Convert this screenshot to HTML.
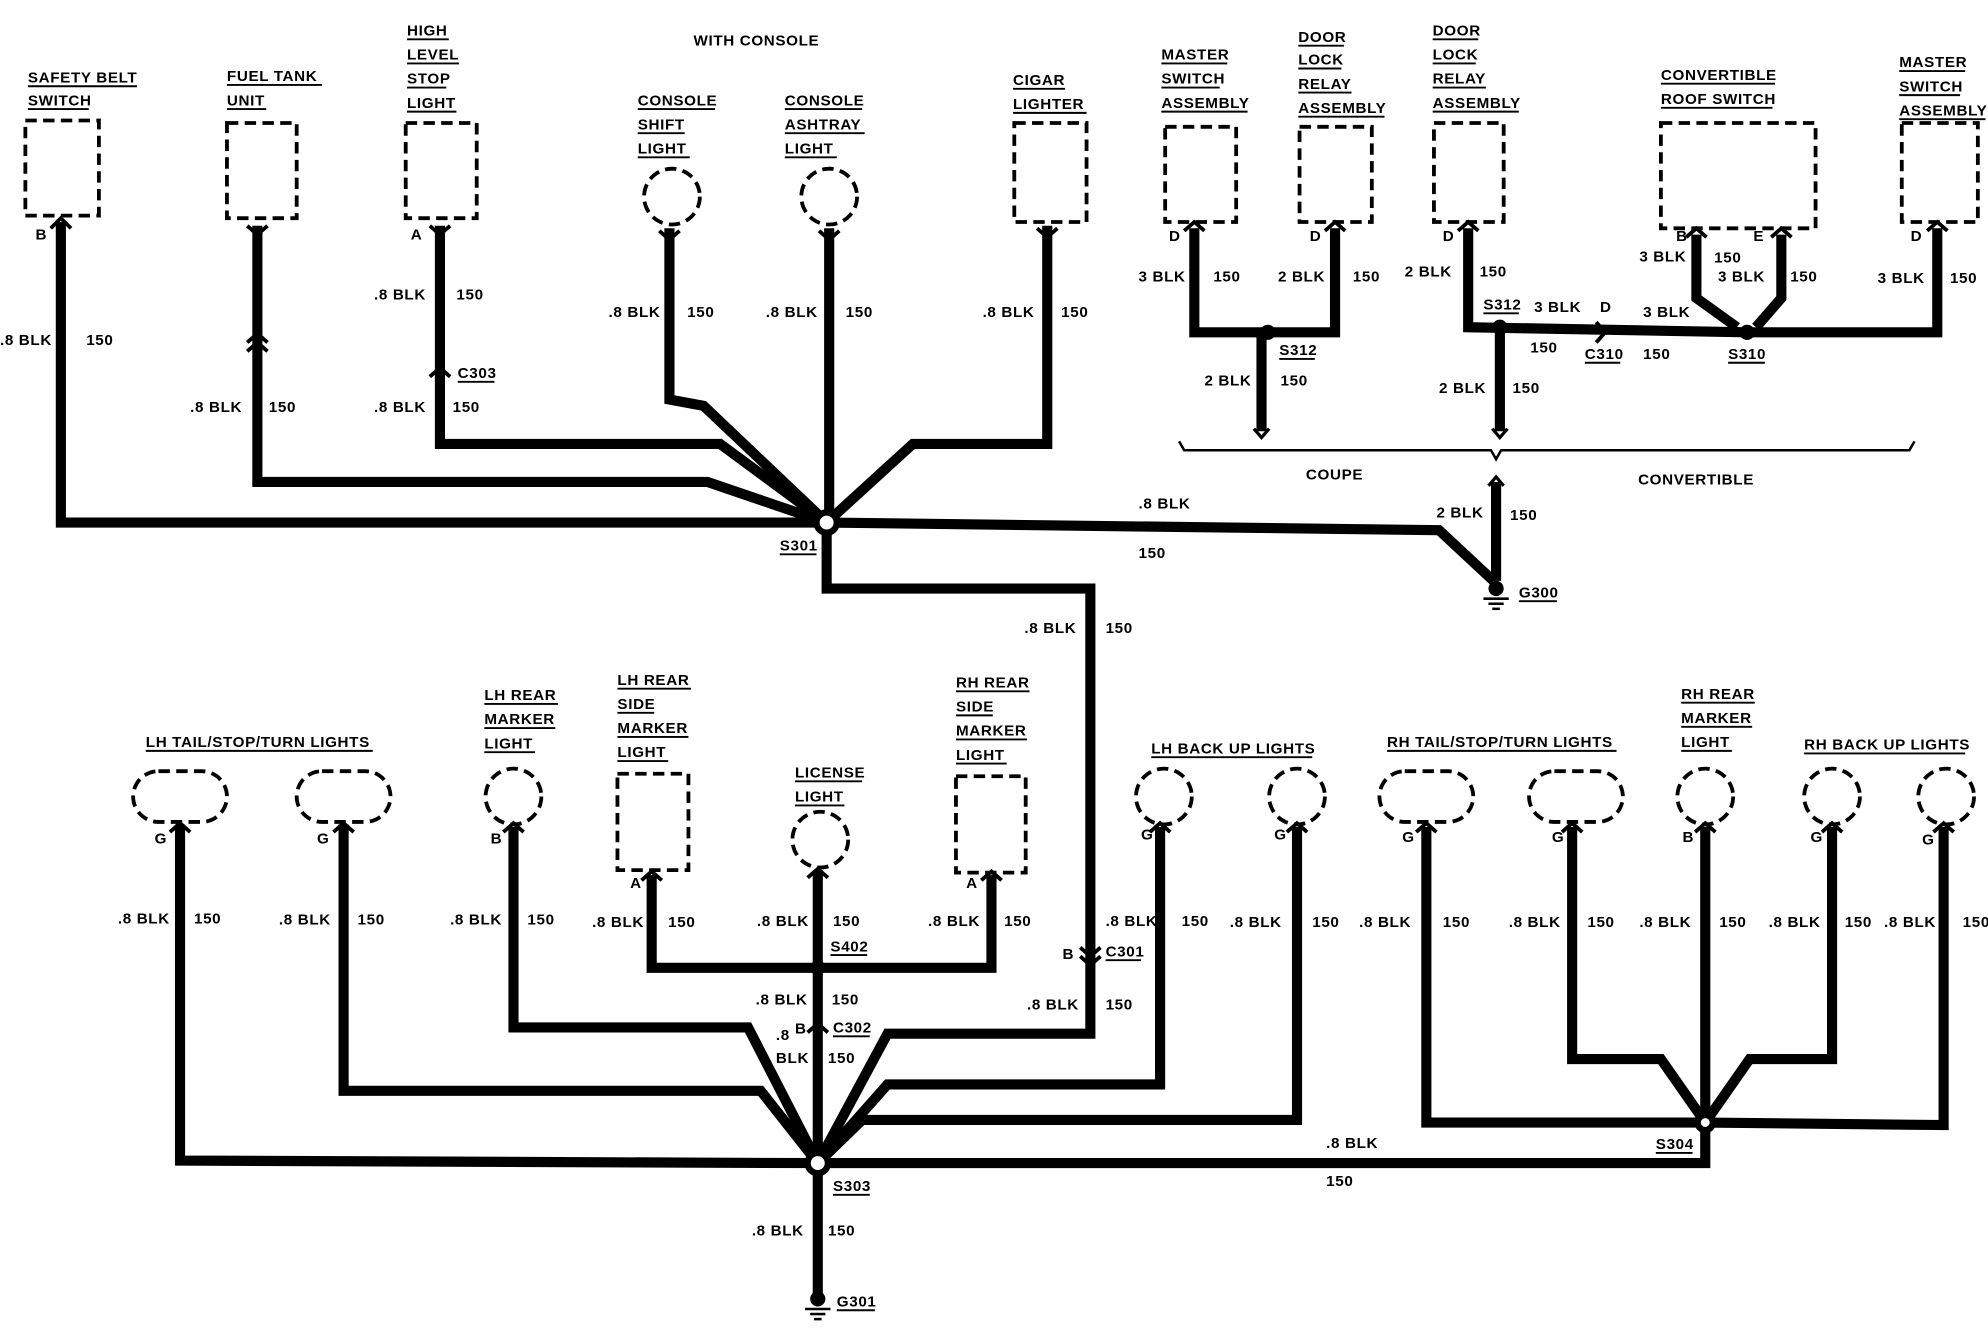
<!DOCTYPE html>
<html><head><meta charset="utf-8"><style>
html,body{margin:0;padding:0;background:#fff;}
svg{display:block}
text{font-family:"Liberation Sans",sans-serif;font-weight:bold;font-size:12px;fill:#000;letter-spacing:0.5px}
.w{fill:none;stroke:#000;stroke-width:8;stroke-linejoin:miter}
.d{fill:none;stroke:#000;stroke-width:3;stroke-dasharray:9,5}
.u{stroke:#000;stroke-width:1.5}
.s{fill:#fff;stroke:#000;stroke-width:5}
</style></head><body>
<svg width="1988" height="1328" viewBox="0 0 1568 1047" preserveAspectRatio="none" xmlns="http://www.w3.org/2000/svg">
<!-- TOP LEFT wires -->
<polyline class="w" points="48,175 48,412 652,412"/>
<polyline class="w" points="203,178 203,380 558,380 652,412"/>
<polyline class="w" points="347,178 347,350 568,350 652,412"/>
<polyline class="w" points="528,180 528,315 555,320 652,412"/>
<polyline class="w" points="654,180 654,412"/>
<polyline class="w" points="826,178 826,350 720,350 652,412"/>
<polyline class="w" points="652,412 1135,418 1178,458"/>
<polyline class="w" points="652,412 652,464 860,464 860,815 700,815 645,917"/>
<!-- boxes -->
<rect class="d" x="20" y="95" width="58" height="75"/>
<rect class="d" x="179" y="97" width="55" height="75"/>
<rect class="d" x="320" y="97" width="56" height="75"/>
<circle class="d" cx="530" cy="155" r="22"/>
<circle class="d" cx="654" cy="155" r="22"/>
<rect class="d" x="800" y="97" width="57" height="78"/>
<!-- connector marks -->
<path d="M40,180 L48,172 L56,180" fill="none" stroke="#000" stroke-width="3"/>
<path d="M195,178 L203,185 L211,178" fill="none" stroke="#000" stroke-width="3"/>
<path d="M339,178 L347,185 L355,178" fill="none" stroke="#000" stroke-width="3"/>
<path d="M520,182 L528,189 L536,182" fill="none" stroke="#000" stroke-width="3"/>
<path d="M646,182 L654,189 L662,182" fill="none" stroke="#000" stroke-width="3"/>
<path d="M818,180 L826,187 L834,180" fill="none" stroke="#000" stroke-width="3"/>
<path d="M195,270 L203,263 L211,270 M195,277 L203,270 L211,277" fill="none" stroke="#000" stroke-width="3"/>
<path d="M339,297 L347,290 L355,297" fill="none" stroke="#000" stroke-width="3"/>
<circle class="s" cx="652" cy="412" r="8"/>
<!-- top-left text -->
<text x="22" y="65">SAFETY BELT</text><text x="22" y="83">SWITCH</text>
<line class="u" x1="22" y1="68" x2="108" y2="68"/><line class="u" x1="22" y1="86" x2="70" y2="86"/>
<text x="28" y="189">B</text>
<text x="0" y="272">.8 BLK</text><text x="68" y="272">150</text>
<text x="179" y="64">FUEL TANK</text><text x="179" y="83">UNIT</text>
<line class="u" x1="179" y1="67" x2="254" y2="67"/><line class="u" x1="179" y1="86" x2="210" y2="86"/>
<text x="150" y="325">.8 BLK</text><text x="212" y="325">150</text>
<text x="321" y="28">HIGH</text><text x="321" y="47">LEVEL</text><text x="321" y="66">STOP</text><text x="321" y="85">LIGHT</text>
<line class="u" x1="321" y1="31" x2="354" y2="31"/><line class="u" x1="321" y1="50" x2="362" y2="50"/><line class="u" x1="321" y1="69" x2="352" y2="69"/><line class="u" x1="321" y1="88" x2="360" y2="88"/>
<text x="324" y="189">A</text>
<text x="295" y="236">.8 BLK</text><text x="360" y="236">150</text>
<text x="361" y="298">C303</text><line class="u" x1="361" y1="301" x2="390" y2="301"/>
<text x="295" y="325">.8 BLK</text><text x="357" y="325">150</text>
<text x="547" y="36">WITH CONSOLE</text>
<text x="503" y="83">CONSOLE</text><text x="503" y="102">SHIFT</text><text x="503" y="121">LIGHT</text>
<line class="u" x1="503" y1="86" x2="564" y2="86"/><line class="u" x1="503" y1="105" x2="540" y2="105"/><line class="u" x1="503" y1="124" x2="544" y2="124"/>
<text x="619" y="83">CONSOLE</text><text x="619" y="102">ASHTRAY</text><text x="619" y="121">LIGHT</text>
<line class="u" x1="619" y1="86" x2="680" y2="86"/><line class="u" x1="619" y1="105" x2="682" y2="105"/><line class="u" x1="619" y1="124" x2="660" y2="124"/>
<text x="480" y="250">.8 BLK</text><text x="542" y="250">150</text>
<text x="604" y="250">.8 BLK</text><text x="667" y="250">150</text>
<text x="799" y="67">CIGAR</text><text x="799" y="86">LIGHTER</text>
<line class="u" x1="799" y1="70" x2="840" y2="70"/><line class="u" x1="799" y1="89" x2="857" y2="89"/>
<text x="775" y="250">.8 BLK</text><text x="837" y="250">150</text>
<text x="615" y="434">S301</text><line class="u" x1="615" y1="437" x2="644" y2="437"/>
<text x="898" y="401">.8 BLK</text><text x="898" y="440">150</text>
<text x="808" y="499">.8 BLK</text><text x="872" y="499">150</text>
<!-- TOP RIGHT -->
<rect class="d" x="919" y="100" width="56" height="75"/>
<rect class="d" x="1025" y="100" width="57" height="75"/>
<rect class="d" x="1131" y="97" width="55" height="78"/>
<rect class="d" x="1310" y="97" width="122" height="83"/>
<rect class="d" x="1500" y="97" width="60" height="78"/>
<polyline class="w" points="942,180 942,262 1053,262 1053,180"/>
<polyline class="w" points="995,262 995,340"/>
<polyline class="w" points="1158,180 1158,258 1378,262"/>
<polyline class="w" points="1183,258 1183,340"/>
<polyline class="w" points="1338,185 1338,235 1370,258"/>
<polyline class="w" points="1405,185 1405,235 1385,258"/>
<polyline class="w" points="1528,180 1528,262 1378,262"/>
<polyline class="w" points="1180,380 1180,458"/>
<path d="M934,182 L942,175 L950,182 M1045,182 L1053,175 L1061,182 M1150,182 L1158,175 L1166,182 M1330,187 L1338,180 L1346,187 M1397,187 L1405,180 L1413,187 M1520,182 L1528,175 L1536,182" fill="none" stroke="#000" stroke-width="3"/>
<path d="M1259,254 L1266,262 L1259,270" fill="none" stroke="#000" stroke-width="3"/>
<path d="M989,338 L995,345 L1001,338 M1177,338 L1183,345 L1189,338 M1174,383 L1180,376 L1186,383" fill="none" stroke="#000" stroke-width="2.5"/>
<circle cx="1000" cy="262" r="6"/><circle cx="1183" cy="258" r="6"/><circle cx="1378" cy="262" r="6"/>
<path d="M930,348 L934,355 L1176,355 L1180,362 L1184,355 L1506,355 L1510,348" fill="none" stroke="#000" stroke-width="2"/>
<text x="916" y="47">MASTER</text><text x="916" y="66">SWITCH</text><text x="916" y="85">ASSEMBLY</text>
<line class="u" x1="916" y1="50" x2="968" y2="50"/><line class="u" x1="916" y1="69" x2="962" y2="69"/><line class="u" x1="916" y1="88" x2="984" y2="88"/>
<text x="1024" y="33">DOOR</text><text x="1024" y="51">LOCK</text><text x="1024" y="70">RELAY</text><text x="1024" y="89">ASSEMBLY</text>
<line class="u" x1="1024" y1="36" x2="1060" y2="36"/><line class="u" x1="1024" y1="54" x2="1058" y2="54"/><line class="u" x1="1024" y1="73" x2="1066" y2="73"/><line class="u" x1="1024" y1="92" x2="1092" y2="92"/>
<text x="1130" y="28">DOOR</text><text x="1130" y="47">LOCK</text><text x="1130" y="66">RELAY</text><text x="1130" y="85">ASSEMBLY</text>
<line class="u" x1="1130" y1="31" x2="1166" y2="31"/><line class="u" x1="1130" y1="50" x2="1164" y2="50"/><line class="u" x1="1130" y1="69" x2="1172" y2="69"/><line class="u" x1="1130" y1="88" x2="1198" y2="88"/>
<text x="1310" y="63">CONVERTIBLE</text><text x="1310" y="82">ROOF SWITCH</text>
<line class="u" x1="1310" y1="66" x2="1400" y2="66"/><line class="u" x1="1310" y1="85" x2="1398" y2="85"/>
<text x="1498" y="53">MASTER</text><text x="1498" y="72">SWITCH</text><text x="1498" y="91">ASSEMBLY</text>
<line class="u" x1="1498" y1="56" x2="1550" y2="56"/><line class="u" x1="1498" y1="75" x2="1546" y2="75"/><line class="u" x1="1498" y1="94" x2="1566" y2="94"/>
<text x="922" y="190">D</text><text x="1033" y="190">D</text><text x="1138" y="190">D</text><text x="1322" y="190">B</text><text x="1383" y="190">E</text><text x="1507" y="190">D</text>
<text x="898" y="222">3 BLK</text><text x="957" y="222">150</text>
<text x="1008" y="222">2 BLK</text><text x="1067" y="222">150</text>
<text x="1108" y="218">2 BLK</text><text x="1167" y="218">150</text>
<text x="1170" y="244">S312</text><line class="u" x1="1170" y1="247" x2="1198" y2="247"/>
<text x="1210" y="246">3 BLK</text><text x="1262" y="246">D</text>
<text x="1207" y="278">150</text><text x="1250" y="283">C310</text><line class="u" x1="1250" y1="286" x2="1278" y2="286"/>
<text x="1296" y="250">3 BLK</text><text x="1296" y="283">150</text>
<text x="1293" y="206">3 BLK</text><text x="1352" y="207">150</text>
<text x="1355" y="222">3 BLK</text><text x="1412" y="222">150</text>
<text x="1363" y="283">S310</text><line class="u" x1="1363" y1="286" x2="1392" y2="286"/>
<text x="1481" y="223">3 BLK</text><text x="1538" y="223">150</text>
<text x="1009" y="280">S312</text><line class="u" x1="1009" y1="283" x2="1037" y2="283"/>
<text x="950" y="304">2 BLK</text><text x="1010" y="304">150</text>
<text x="1135" y="310">2 BLK</text><text x="1193" y="310">150</text>
<text x="1030" y="378">COUPE</text><text x="1292" y="382">CONVERTIBLE</text>
<text x="1133" y="408">2 BLK</text><text x="1191" y="410">150</text>
<!-- G300 -->
<circle cx="1180" cy="464" r="6"/><line x1="1170" y1="472" x2="1190" y2="472" stroke="#000" stroke-width="2"/><line x1="1174" y1="476" x2="1186" y2="476" stroke="#000" stroke-width="2"/><line x1="1177" y1="480" x2="1183" y2="480" stroke="#000" stroke-width="2"/>
<text x="1198" y="471">G300</text><line class="u" x1="1198" y1="474" x2="1228" y2="474"/>
<!-- BOTTOM wires -->
<polyline class="w" points="142,650 142,915 645,917"/>
<polyline class="w" points="271,650 271,860 600,860 645,917"/>
<polyline class="w" points="405,652 405,810 590,810 645,917"/>
<polyline class="w" points="514,690 514,763 782,763 782,690"/>
<polyline class="w" points="645,686 645,1020"/>
<polyline class="w" points="915,652 915,855 700,855 645,917"/>
<polyline class="w" points="1023,652 1023,883 680,883 645,917"/>
<polyline class="w" points="645,917 1345,917 1345,885"/>
<polyline class="w" points="1125,652 1125,885 1345,885"/>
<polyline class="w" points="1240,652 1240,835 1310,835 1345,885"/>
<polyline class="w" points="1345,652 1345,885"/>
<polyline class="w" points="1445,652 1445,835 1380,835 1345,885"/>
<polyline class="w" points="1533,652 1533,887 1345,885"/>
<!-- bottom components -->
<rect class="d" x="105" y="608" width="74" height="40" rx="20"/>
<rect class="d" x="234" y="608" width="74" height="40" rx="20"/>
<circle class="d" cx="405" cy="628" r="22"/>
<rect class="d" x="487" y="610" width="56" height="76"/>
<circle class="d" cx="647" cy="662" r="22"/>
<rect class="d" x="754" y="612" width="55" height="76"/>
<circle class="d" cx="918" cy="628" r="22"/>
<circle class="d" cx="1023" cy="628" r="22"/>
<rect class="d" x="1088" y="608" width="74" height="40" rx="20"/>
<rect class="d" x="1206" y="608" width="74" height="40" rx="20"/>
<circle class="d" cx="1345" cy="628" r="22"/>
<circle class="d" cx="1445" cy="628" r="22"/>
<circle class="d" cx="1535" cy="628" r="22"/>
<path d="M134,656 L142,649 L150,656 M263,656 L271,649 L279,656 M397,656 L405,649 L413,656 M506,694 L514,687 L522,694 M637,692 L645,685 L653,692 M774,694 L782,687 L790,694 M907,656 L915,649 L923,656 M1015,656 L1023,649 L1031,656 M1117,656 L1125,649 L1133,656 M1232,656 L1240,649 L1248,656 M1337,656 L1345,649 L1353,656 M1437,656 L1445,649 L1453,656 M1525,656 L1533,649 L1541,656" fill="none" stroke="#000" stroke-width="3"/>
<path d="M852,747 L860,754 L868,747 M852,754 L860,761 L868,754 M637,814 L645,807 L653,814" fill="none" stroke="#000" stroke-width="3"/>
<circle cx="645" cy="763" r="6"/>
<circle class="s" cx="645" cy="917" r="8"/>
<circle class="s" cx="1345" cy="885" r="6"/>
<!-- G301 -->
<circle cx="645" cy="1024" r="6"/><line x1="635" y1="1032" x2="655" y2="1032" stroke="#000" stroke-width="2"/><line x1="639" y1="1036" x2="651" y2="1036" stroke="#000" stroke-width="2"/><line x1="642" y1="1040" x2="648" y2="1040" stroke="#000" stroke-width="2"/>
<text x="660" y="1030">G301</text><line class="u" x1="660" y1="1033" x2="690" y2="1033"/>
<!-- bottom text -->
<text x="115" y="589">LH TAIL/STOP/TURN LIGHTS</text><line class="u" x1="115" y1="592" x2="294" y2="592"/>
<text x="382" y="552">LH REAR</text><text x="382" y="571">MARKER</text><text x="382" y="590">LIGHT</text>
<line class="u" x1="382" y1="555" x2="440" y2="555"/><line class="u" x1="382" y1="574" x2="438" y2="574"/><line class="u" x1="382" y1="593" x2="422" y2="593"/>
<text x="487" y="540">LH REAR</text><text x="487" y="559">SIDE</text><text x="487" y="578">MARKER</text><text x="487" y="597">LIGHT</text>
<line class="u" x1="487" y1="543" x2="545" y2="543"/><line class="u" x1="487" y1="562" x2="516" y2="562"/><line class="u" x1="487" y1="581" x2="543" y2="581"/><line class="u" x1="487" y1="600" x2="527" y2="600"/>
<text x="627" y="613">LICENSE</text><text x="627" y="632">LIGHT</text>
<line class="u" x1="627" y1="616" x2="680" y2="616"/><line class="u" x1="627" y1="635" x2="666" y2="635"/>
<text x="754" y="542">RH REAR</text><text x="754" y="561">SIDE</text><text x="754" y="580">MARKER</text><text x="754" y="599">LIGHT</text>
<line class="u" x1="754" y1="545" x2="812" y2="545"/><line class="u" x1="754" y1="564" x2="783" y2="564"/><line class="u" x1="754" y1="583" x2="810" y2="583"/><line class="u" x1="754" y1="602" x2="794" y2="602"/>
<text x="908" y="594">LH BACK UP LIGHTS</text><line class="u" x1="908" y1="597" x2="1035" y2="597"/>
<text x="1094" y="589">RH TAIL/STOP/TURN LIGHTS</text><line class="u" x1="1094" y1="592" x2="1275" y2="592"/>
<text x="1326" y="551">RH REAR</text><text x="1326" y="570">MARKER</text><text x="1326" y="589">LIGHT</text>
<line class="u" x1="1326" y1="554" x2="1384" y2="554"/><line class="u" x1="1326" y1="573" x2="1382" y2="573"/><line class="u" x1="1326" y1="592" x2="1366" y2="592"/>
<text x="1423" y="591">RH BACK UP LIGHTS</text><line class="u" x1="1423" y1="594" x2="1550" y2="594"/>
<text x="122" y="665">G</text><text x="250" y="665">G</text><text x="387" y="665">B</text><text x="497" y="700">A</text><text x="762" y="700">A</text>
<text x="900" y="662">G</text><text x="1005" y="662">G</text><text x="1106" y="664">G</text><text x="1224" y="664">G</text><text x="1327" y="664">B</text><text x="1428" y="664">G</text><text x="1516" y="666">G</text>
<text x="93" y="728">.8 BLK</text><text x="153" y="728">150</text>
<text x="220" y="729">.8 BLK</text><text x="282" y="729">150</text>
<text x="355" y="729">.8 BLK</text><text x="416" y="729">150</text>
<text x="467" y="731">.8 BLK</text><text x="527" y="731">150</text>
<text x="597" y="730">.8 BLK</text><text x="657" y="730">150</text>
<text x="655" y="750">S402</text><line class="u" x1="655" y1="753" x2="684" y2="753"/>
<text x="732" y="730">.8 BLK</text><text x="792" y="730">150</text>
<text x="872" y="730">.8 BLK</text><text x="932" y="730">150</text>
<text x="970" y="731">.8 BLK</text><text x="1035" y="731">150</text>
<text x="838" y="756">B</text><text x="872" y="754">C301</text><line class="u" x1="872" y1="757" x2="900" y2="757"/>
<text x="810" y="796">.8 BLK</text><text x="872" y="796">150</text>
<text x="596" y="792">.8 BLK</text><text x="656" y="792">150</text>
<text x="612" y="820">.8</text><text x="627" y="815">B</text><text x="657" y="814">C302</text><line class="u" x1="657" y1="817" x2="686" y2="817"/>
<text x="612" y="838">BLK</text><text x="653" y="838">150</text>
<text x="657" y="939">S303</text><line class="u" x1="657" y1="942" x2="686" y2="942"/>
<text x="593" y="974">.8 BLK</text><text x="653" y="974">150</text>
<text x="1072" y="731">.8 BLK</text><text x="1138" y="731">150</text>
<text x="1190" y="731">.8 BLK</text><text x="1252" y="731">150</text>
<text x="1293" y="731">.8 BLK</text><text x="1356" y="731">150</text>
<text x="1395" y="731">.8 BLK</text><text x="1455" y="731">150</text>
<text x="1486" y="731">.8 BLK</text><text x="1548" y="731">150</text>
<text x="1046" y="905">.8 BLK</text><text x="1046" y="935">150</text>
<text x="1306" y="906">S304</text><line class="u" x1="1306" y1="909" x2="1335" y2="909"/>
</svg>
</body></html>
